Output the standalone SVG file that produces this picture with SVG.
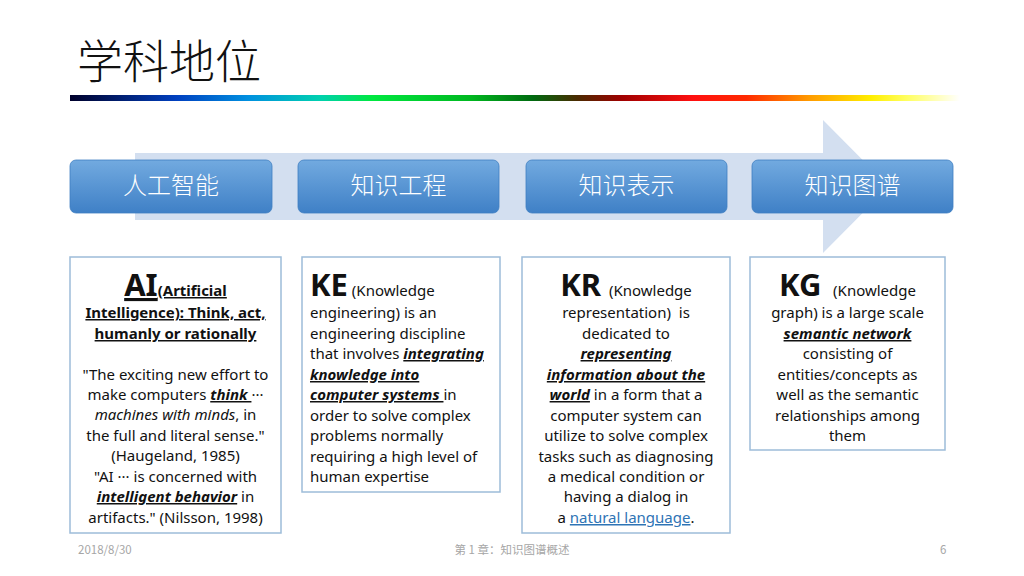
<svg xmlns="http://www.w3.org/2000/svg" width="1024" height="576" viewBox="0 0 1024 576">
<defs>
<linearGradient id="rainbow" x1="0" y1="0" x2="1" y2="0">
<stop offset="0" stop-color="#00002a"/>
<stop offset="0.12" stop-color="#0040c0"/>
<stop offset="0.2" stop-color="#0090e0"/>
<stop offset="0.28" stop-color="#00d0b0"/>
<stop offset="0.34" stop-color="#00e840"/>
<stop offset="0.45" stop-color="#00b820"/>
<stop offset="0.52" stop-color="#006a10"/>
<stop offset="0.57" stop-color="#4a2a00"/>
<stop offset="0.62" stop-color="#a00000"/>
<stop offset="0.7" stop-color="#ff1010"/>
<stop offset="0.76" stop-color="#ff2a00"/>
<stop offset="0.83" stop-color="#ff9a00"/>
<stop offset="0.9" stop-color="#ffee00"/>
<stop offset="0.94" stop-color="#ffff60"/>
<stop offset="1" stop-color="#ffffff"/>
</linearGradient>
<linearGradient id="boxg" x1="0" y1="0" x2="0" y2="1">
<stop offset="0" stop-color="#72aae0"/>
<stop offset="1" stop-color="#3f80c6"/>
</linearGradient>
</defs>
<style>
.title{font-family:"Noto Sans CJK SC",sans-serif;font-weight:300;font-size:46px;fill:#111}
.lbl{font-family:"Noto Sans CJK SC",sans-serif;font-weight:300;font-size:24px;fill:#fff}
.head{fill:url(#boxg);stroke:#3f7fc2;stroke-width:0.8}
.card{fill:#fff;stroke:#9dbcd9;stroke-width:1.5}
.t{font-family:"Noto Sans","Noto Sans CJK SC",sans-serif;font-size:15px;fill:#111}
.c{text-anchor:middle}
.big{font-weight:700;font-size:31px}
.b{font-weight:700}
.bi{font-weight:700;font-style:italic;text-decoration:underline}
.u{text-decoration:underline}
.i{font-style:italic}
.link{fill:#2e74b5;text-decoration:underline}
.foot{font-family:"Noto Sans CJK SC",sans-serif;font-size:11.5px;fill:#a6a6a6}
</style>
<rect width="1024" height="576" fill="#fff"/>
<text class="title" x="77" y="78">学科地位</text>
<rect x="70" y="95" width="890" height="6" fill="url(#rainbow)"/>

<g id="arrow">
<polygon points="135,153 823,153 823,120 889,186.5 823,253 823,220 135,220" fill="#d3dff0"/>
</g>

<g id="connectors"></g>

<g id="n-ai">
<rect class="head" x="70" y="160" width="202" height="53" rx="6"/>
<text class="lbl c" x="171" y="194">人工智能</text>
</g>
<g id="n-ke">
<rect class="head" x="298" y="160" width="201" height="53" rx="6"/>
<text class="lbl c" x="398.5" y="194">知识工程</text>
</g>
<g id="n-kr">
<rect class="head" x="526" y="160" width="201" height="53" rx="6"/>
<text class="lbl c" x="626.5" y="194">知识表示</text>
</g>
<g id="n-kg">
<rect class="head" x="752" y="160" width="201" height="53" rx="6"/>
<text class="lbl c" x="852.5" y="194">知识图谱</text>
</g>

<g id="card-ai">
<rect class="card" x="70" y="257" width="211" height="276"/>
<text class="t c b u" x="175.5" y="296"><tspan class="big" font-size="33">AI</tspan>(Artificial</text>
<text class="t c b u" x="175.5" y="318">Intelligence): Think, act,</text>
<text class="t c b u" x="175.5" y="339">humanly or rationally</text>
<text class="t c" x="175.5" y="380">"The exciting new effort to</text>
<text class="t c" x="175.5" y="400">make computers <tspan class="bi">think </tspan>···</text>
<text class="t c" x="175.5" y="420"><tspan class="i">machines with minds</tspan>, in</text>
<text class="t c" x="175.5" y="441">the full and literal sense."</text>
<text class="t c" x="175.5" y="461">(Haugeland, 1985)</text>
<text class="t c" x="175.5" y="482">"AI ··· is concerned with</text>
<text class="t c" x="175.5" y="502"><tspan class="bi">intelligent behavior</tspan> in</text>
<text class="t c" x="175.5" y="523">artifacts." (Nilsson, 1998)</text>
</g>

<g id="card-ke">
<rect class="card" x="302" y="257" width="198" height="235"/>
<text class="t" x="310" y="296"><tspan class="big">KE</tspan> (Knowledge</text>
<text class="t" x="310" y="318">engineering) is an</text>
<text class="t" x="310" y="339">engineering discipline</text>
<text class="t" x="310" y="359">that involves <tspan class="bi">integrating</tspan></text>
<text class="t bi" x="310" y="380">knowledge into</text>
<text class="t" x="310" y="400"><tspan class="bi">computer systems </tspan>in</text>
<text class="t" x="310" y="421">order to solve complex</text>
<text class="t" x="310" y="441">problems normally</text>
<text class="t" x="310" y="462">requiring a high level of</text>
<text class="t" x="310" y="482">human expertise</text>
</g>

<g id="card-kr">
<rect class="card" x="522" y="257" width="208" height="276"/>
<text class="t c" x="626" y="296"><tspan class="big">KR</tspan>&#160; (Knowledge</text>
<text class="t c" x="626" y="318">representation)&#160; is</text>
<text class="t c" x="626" y="339">dedicated to</text>
<text class="t c bi" x="626" y="359">representing</text>
<text class="t c bi" x="626" y="380">information about the</text>
<text class="t c" x="626" y="400"><tspan class="bi">world</tspan> in a form that a</text>
<text class="t c" x="626" y="421">computer system can</text>
<text class="t c" x="626" y="441">utilize to solve complex</text>
<text class="t c" x="626" y="462">tasks such as diagnosing</text>
<text class="t c" x="626" y="482">a medical condition or</text>
<text class="t c" x="626" y="502">having a dialog in</text>
<text class="t c" x="626" y="523">a <tspan class="link">natural language</tspan>.</text>
</g>

<g id="card-kg">
<rect class="card" x="750" y="257" width="195" height="193"/>
<text class="t c" x="847.5" y="296"><tspan class="big">KG</tspan>&#160;&#160; (Knowledge</text>
<text class="t c" x="847.5" y="318">graph) is a large scale</text>
<text class="t c bi" x="847.5" y="339">semantic network</text>
<text class="t c" x="847.5" y="359">consisting of</text>
<text class="t c" x="847.5" y="380">entities/concepts as</text>
<text class="t c" x="847.5" y="400">well as the semantic</text>
<text class="t c" x="847.5" y="421">relationships among</text>
<text class="t c" x="847.5" y="441">them</text>
</g>

<g id="footer">
<text class="foot" x="78" y="554">2018/8/30</text>
<text class="foot c" x="512" y="554">第 1 章：知识图谱概述</text>
<text class="foot" x="940" y="554">6</text>
</g>
</svg>
